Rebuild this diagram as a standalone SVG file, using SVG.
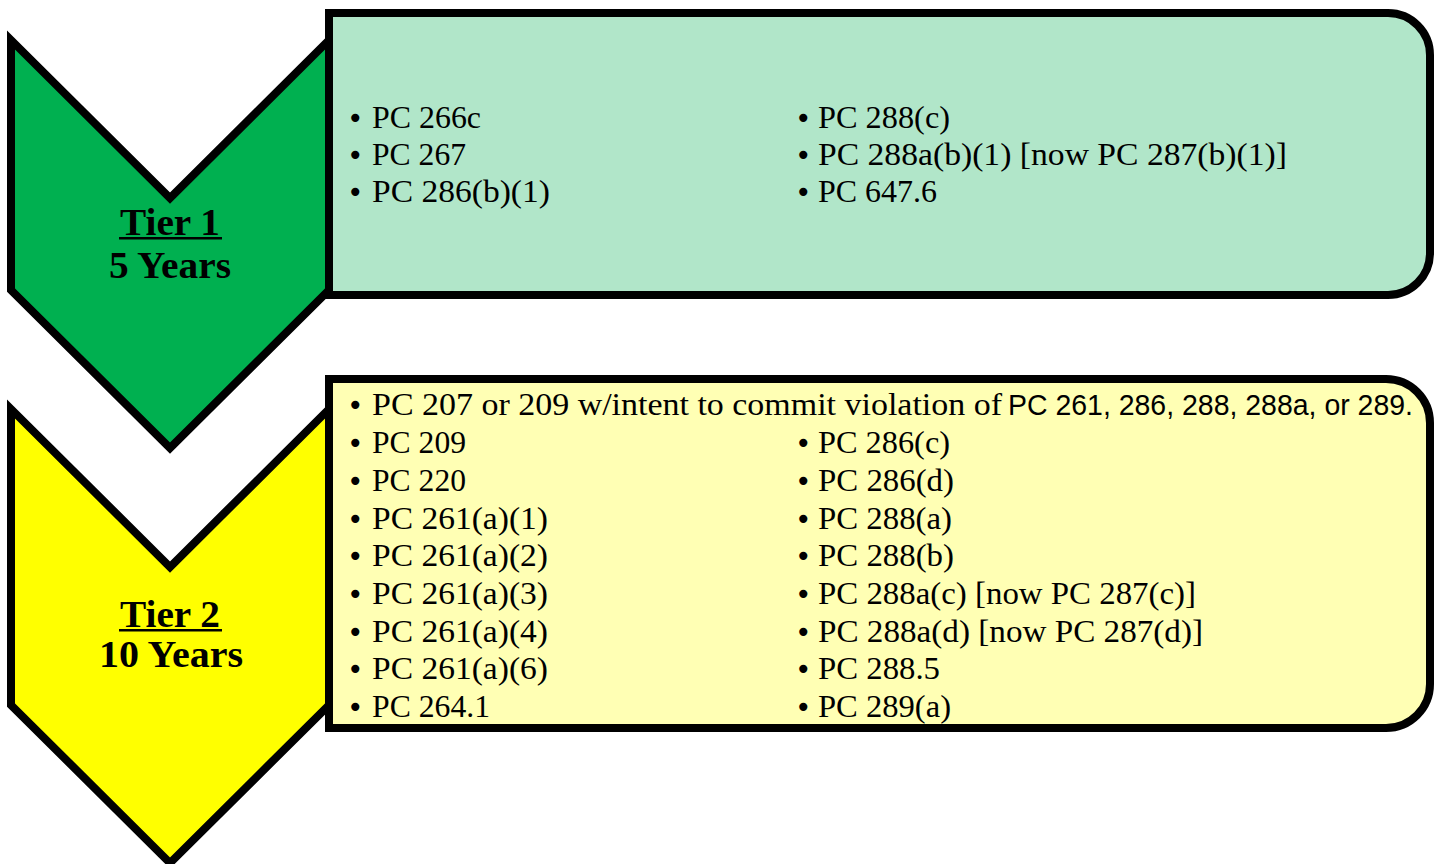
<svg xmlns="http://www.w3.org/2000/svg" width="1434" height="864" viewBox="0 0 1434 864">
<style>
.chev{stroke:#000;stroke-width:8;stroke-linejoin:miter}
.box{stroke:#000;stroke-width:8}
.t{font-family:"Liberation Serif","DejaVu Serif",serif;font-size:31px;fill:#000}
.s{font-family:"Liberation Sans","DejaVu Sans",sans-serif;font-size:30px;fill:#000}
.b{font-family:"DejaVu Sans","Liberation Sans",sans-serif;font-size:28px;fill:#000}
.h{font-family:"Liberation Serif","DejaVu Serif",serif;font-size:37px;font-weight:bold;fill:#000;text-anchor:middle}
</style>
<rect width="1434" height="864" fill="#fff"/>
<g id="tier1">
<polygon class="chev" fill="#00B050" points="11,40 170,198 329,40 329,290 170,448 11,290"/>
<path class="box" fill="#B1E6C9" d="M329,13 H1388 A42,42 0 0 1 1430,55 V253 A42,42 0 0 1 1388,295 H329 Z"/>
<text class="h" x="170" y="235" textLength="100" lengthAdjust="spacingAndGlyphs">Tier 1</text>
<rect x="119" y="237" width="103" height="2.5" fill="#000"/>
<text class="h" x="170" y="278" textLength="122" lengthAdjust="spacingAndGlyphs">5 Years</text>
<g>
<text class="b" x="347" y="128">•</text>
<text class="b" x="347" y="165">•</text>
<text class="b" x="347" y="202">•</text>
<text class="b" x="795" y="128">•</text>
<text class="b" x="795" y="165">•</text>
<text class="b" x="795" y="202">•</text>
<text class="t" x="372" y="128" textLength="109" lengthAdjust="spacingAndGlyphs">PC 266c</text>
<text class="t" x="372" y="165" textLength="94" lengthAdjust="spacingAndGlyphs">PC 267</text>
<text class="t" x="372" y="202" textLength="178" lengthAdjust="spacingAndGlyphs">PC 286(b)(1)</text>
<text class="t" x="818" y="128" textLength="132" lengthAdjust="spacingAndGlyphs">PC 288(c)</text>
<text class="t" x="818" y="165" textLength="469" lengthAdjust="spacingAndGlyphs">PC 288a(b)(1) [now PC 287(b)(1)]</text>
<text class="t" x="818" y="202" textLength="119" lengthAdjust="spacingAndGlyphs">PC 647.6</text>
</g>
</g>
<g id="tier2">
<polygon class="chev" fill="#FFFF00" points="11,409 170,567 329,409 329,705 170,863 11,705"/>
<path class="box" fill="#FFFFB4" d="M329,379 H1386 A44,44 0 0 1 1430,423 V684 A44,44 0 0 1 1386,728 H329 Z"/>
<text class="h" x="170" y="627" textLength="100" lengthAdjust="spacingAndGlyphs">Tier 2</text>
<rect x="119" y="629" width="103" height="2.5" fill="#000"/>
<text class="h" x="171" y="667" textLength="144" lengthAdjust="spacingAndGlyphs">10 Years</text>
<g>
<text class="b" x="347" y="415">•</text>
<text class="t" x="372" y="415" textLength="630" lengthAdjust="spacingAndGlyphs">PC 207 or 209 w/intent to commit violation of</text>
<text class="s" x="1008" y="415" textLength="405" lengthAdjust="spacingAndGlyphs">PC 261, 286, 288, 288a, or 289.</text>
<text class="b" x="347" y="453">•</text>
<text class="b" x="347" y="491">•</text>
<text class="b" x="347" y="529">•</text>
<text class="b" x="347" y="566">•</text>
<text class="b" x="347" y="604">•</text>
<text class="b" x="347" y="642">•</text>
<text class="b" x="347" y="679">•</text>
<text class="b" x="347" y="717">•</text>
<text class="t" x="372" y="453" textLength="94" lengthAdjust="spacingAndGlyphs">PC 209</text>
<text class="t" x="372" y="491" textLength="94" lengthAdjust="spacingAndGlyphs">PC 220</text>
<text class="t" x="372" y="529" textLength="176" lengthAdjust="spacingAndGlyphs">PC 261(a)(1)</text>
<text class="t" x="372" y="566" textLength="176" lengthAdjust="spacingAndGlyphs">PC 261(a)(2)</text>
<text class="t" x="372" y="604" textLength="176" lengthAdjust="spacingAndGlyphs">PC 261(a)(3)</text>
<text class="t" x="372" y="642" textLength="176" lengthAdjust="spacingAndGlyphs">PC 261(a)(4)</text>
<text class="t" x="372" y="679" textLength="176" lengthAdjust="spacingAndGlyphs">PC 261(a)(6)</text>
<text class="t" x="372" y="717" textLength="118" lengthAdjust="spacingAndGlyphs">PC 264.1</text>
<text class="b" x="795" y="453">•</text>
<text class="b" x="795" y="491">•</text>
<text class="b" x="795" y="529">•</text>
<text class="b" x="795" y="566">•</text>
<text class="b" x="795" y="604">•</text>
<text class="b" x="795" y="642">•</text>
<text class="b" x="795" y="679">•</text>
<text class="b" x="795" y="717">•</text>
<text class="t" x="818" y="453" textLength="132" lengthAdjust="spacingAndGlyphs">PC 286(c)</text>
<text class="t" x="818" y="491" textLength="136" lengthAdjust="spacingAndGlyphs">PC 286(d)</text>
<text class="t" x="818" y="529" textLength="134" lengthAdjust="spacingAndGlyphs">PC 288(a)</text>
<text class="t" x="818" y="566" textLength="136" lengthAdjust="spacingAndGlyphs">PC 288(b)</text>
<text class="t" x="818" y="604" textLength="378" lengthAdjust="spacingAndGlyphs">PC 288a(c) [now PC 287(c)]</text>
<text class="t" x="818" y="642" textLength="385" lengthAdjust="spacingAndGlyphs">PC 288a(d) [now PC 287(d)]</text>
<text class="t" x="818" y="679" textLength="122" lengthAdjust="spacingAndGlyphs">PC 288.5</text>
<text class="t" x="818" y="717" textLength="133" lengthAdjust="spacingAndGlyphs">PC 289(a)</text>
</g>
</g>
<g id="connectors"/>
</svg>
